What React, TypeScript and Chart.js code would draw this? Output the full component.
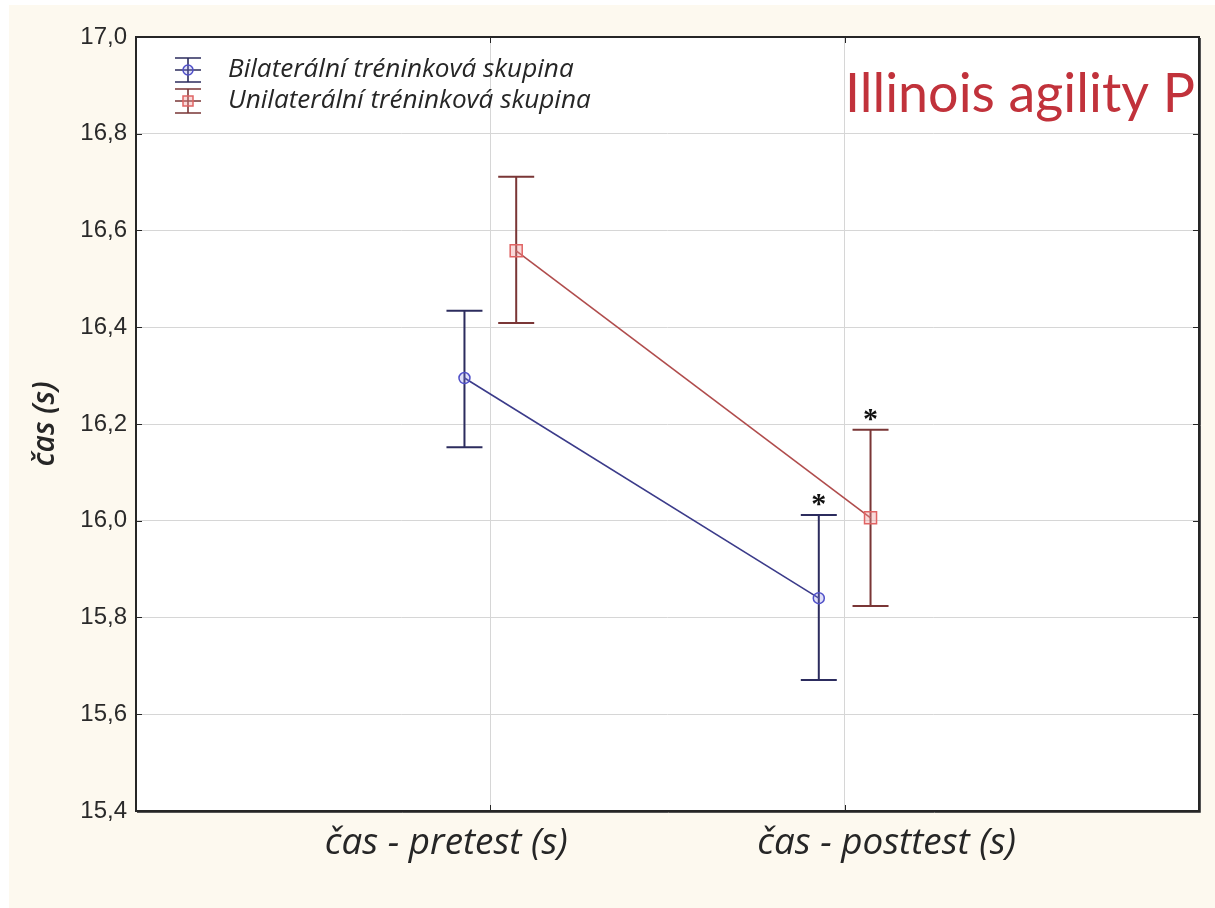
import React, { useEffect, useRef } from "react";
import { Chart, registerables } from "chart.js";

Chart.register(...registerables);

// Illinois agility test time (s): group means with error bars, pretest vs posttest
const phases = ["čas - pretest (s)", "čas - posttest (s)"];
const groupNames = ["Bilaterální tréninková skupina", "Unilaterální tréninková skupina"];

const bilateralMean = [16.295, 15.84];
const bilateralLow = [16.152, 15.671];
const bilateralHigh = [16.434, 16.012];

const unilateralMean = [16.558, 16.006];
const unilateralLow = [16.409, 15.824];
const unilateralHigh = [16.711, 16.188];

// "*" = significant change against pretest
const bilateralStar = [false, true];
const unilateralStar = [false, true];

const yTickValues = [15.4, 15.6, 15.8, 16.0, 16.2, 16.4, 16.6, 16.8, 17.0];
const chartTitle = "Illinois agility P";
const yAxisTitle = "čas (s)";

type Series = {
  name: string;
  mean: number[];
  low: number[];
  high: number[];
  star: boolean[];
  shift: number;
  line: string;
  bar: string;
  marker: string;
  markerFill: string;
  pointStyle: "circle" | "rect";
  radius: number;
};

const series: Series[] = [
  {
    name: groupNames[0],
    mean: bilateralMean,
    low: bilateralLow,
    high: bilateralHigh,
    star: bilateralStar,
    shift: -0.073,
    line: "#3b3b8a",
    bar: "#2c2c5e",
    marker: "#5050c8",
    markerFill: "rgba(130,130,235,0.25)",
    pointStyle: "circle",
    radius: 5.5,
  },
  {
    name: groupNames[1],
    mean: unilateralMean,
    low: unilateralLow,
    high: unilateralHigh,
    star: unilateralStar,
    shift: 0.073,
    line: "#b04c4c",
    bar: "#7a3636",
    marker: "#e06464",
    markerFill: "rgba(240,150,150,0.35)",
    pointStyle: "rect",
    radius: 8.5,
  },
];

const CREAM = "#fdf9ef";
const GRID = "#d6d6d6";
const INK = "#262626";
const CAP = 18;

function fitFont(ctx: CanvasRenderingContext2D, text: string, tpl: (s: number) => string, width: number) {
  ctx.font = tpl(100);
  const w = ctx.measureText(text).width;
  return tpl((100 * width) / w);
}

const backdrop = {
  id: "backdrop",
  beforeDraw(chart: any) {
    const { ctx, width, height, chartArea } = chart;
    ctx.save();
    ctx.fillStyle = "#ffffff";
    ctx.fillRect(0, 0, width, height);
    ctx.fillStyle = CREAM;
    ctx.fillRect(9, 5, width - 9, height - 5);
    ctx.fillStyle = "#ffffff";
    ctx.fillRect(chartArea.left, chartArea.top, chartArea.right - chartArea.left, chartArea.bottom - chartArea.top);
    ctx.restore();
  },
};

const errorBars = {
  id: "errorBars",
  beforeDatasetsDraw(chart: any) {
    const { ctx } = chart;
    const x = chart.scales.x;
    const y = chart.scales.y;
    series.forEach((s) => {
      ctx.save();
      ctx.strokeStyle = s.bar;
      ctx.lineWidth = 2;
      s.mean.forEach((_, i) => {
        const px = x.getPixelForValue(i + 1 + s.shift);
        const top = y.getPixelForValue(s.high[i]);
        const bot = y.getPixelForValue(s.low[i]);
        ctx.beginPath();
        ctx.moveTo(px, top);
        ctx.lineTo(px, bot);
        ctx.moveTo(px - CAP, top);
        ctx.lineTo(px + CAP, top);
        ctx.moveTo(px - CAP, bot);
        ctx.lineTo(px + CAP, bot);
        ctx.stroke();
      });
      ctx.restore();
    });
  },
  afterDatasetsDraw(chart: any) {
    const { ctx } = chart;
    const x = chart.scales.x;
    const y = chart.scales.y;
    ctx.save();
    ctx.fillStyle = "#111";
    ctx.font = "bold 30px 'Liberation Serif'";
    ctx.textAlign = "center";
    ctx.textBaseline = "middle";
    series.forEach((s) => {
      s.star.forEach((on, i) => {
        if (!on) return;
        const px = x.getPixelForValue(i + 1 + s.shift);
        const top = y.getPixelForValue(s.high[i]);
        ctx.fillText("*", px, top - 10);
      });
    });
    ctx.restore();
  },
};

const decorations = {
  id: "decorations",
  afterDraw(chart: any) {
    const { ctx, chartArea } = chart;
    const { left, right, top, bottom } = chartArea;
    const x = chart.scales.x;
    const y = chart.scales.y;
    ctx.save();

    // frame
    ctx.strokeStyle = INK;
    ctx.lineWidth = 2;
    ctx.strokeRect(left, top, right - left, bottom - top);
    ctx.strokeStyle = "#555";
    ctx.lineWidth = 1;
    ctx.beginPath();
    ctx.moveTo(left + 1, bottom + 1.5);
    ctx.lineTo(right + 1.5, bottom + 1.5);
    ctx.lineTo(right + 1.5, top + 1);
    ctx.stroke();

    // short inner tick marks
    ctx.strokeStyle = INK;
    ctx.lineWidth = 1;
    ctx.beginPath();
    yTickValues.forEach((v) => {
      const py = Math.round(y.getPixelForValue(v)) + 0.5;
      ctx.moveTo(left, py);
      ctx.lineTo(left + 6, py);
      ctx.moveTo(right, py);
      ctx.lineTo(right - 6, py);
    });
    phases.forEach((_, i) => {
      const px = Math.round(x.getPixelForValue(i + 1)) + 0.5;
      ctx.moveTo(px, top);
      ctx.lineTo(px, top + 6);
      ctx.moveTo(px, bottom);
      ctx.lineTo(px, bottom - 6);
    });
    ctx.stroke();

    // phase labels under the axis
    const labelFont = fitFont(ctx, phases[0], (s) => `italic 400 ${s}px 'Open Sans'`, 243);
    ctx.font = labelFont;
    ctx.fillStyle = INK;
    ctx.textAlign = "center";
    ctx.textBaseline = "middle";
    const labelShift = [-44, 42];
    phases.forEach((p, i) => {
      ctx.fillText(p, x.getPixelForValue(i + 1) + labelShift[i], bottom + 33);
    });

    // legend
    const legendFont = fitFont(ctx, groupNames[0], (s) => `italic 400 ${s}px 'Open Sans'`, 346);
    const rows = [top + 33, top + 64];
    series.forEach((s, i) => {
      const cy = rows[i];
      const cx = left + 52;
      ctx.strokeStyle = s.bar;
      ctx.lineWidth = 1.6;
      ctx.beginPath();
      ctx.moveTo(cx, cy - 12);
      ctx.lineTo(cx, cy + 12);
      [-12, 0, 12].forEach((d) => {
        ctx.moveTo(cx - 13, cy + d);
        ctx.lineTo(cx + 13, cy + d);
      });
      ctx.stroke();
      ctx.strokeStyle = s.marker;
      ctx.fillStyle = s.markerFill;
      ctx.lineWidth = 1.5;
      ctx.beginPath();
      if (s.pointStyle === "circle") ctx.arc(cx, cy, 5, 0, Math.PI * 2);
      else ctx.rect(cx - 5, cy - 5, 10, 10);
      ctx.fill();
      ctx.stroke();
      ctx.font = legendFont;
      ctx.fillStyle = INK;
      ctx.textAlign = "left";
      ctx.textBaseline = "middle";
      ctx.fillText(s.name, left + 92, cy);
    });

    // title in the upper right corner
    ctx.font = fitFont(ctx, chartTitle, (s) => `400 ${s}px Lato`, 350);
    ctx.fillStyle = "#c1323b";
    ctx.textAlign = "right";
    ctx.textBaseline = "middle";
    ctx.fillText(chartTitle, right - 4, top + 58);

    ctx.restore();
  },
};

export default function App() {
  const canvasRef = useRef<HTMLCanvasElement | null>(null);

  useEffect(() => {
    if (!canvasRef.current) return;
    const chart = new Chart(canvasRef.current, {
      type: "line",
      data: {
        datasets: series.map((s) => ({
          label: s.name,
          data: s.mean.map((m, i) => ({ x: i + 1 + s.shift, y: m })),
          borderColor: s.line,
          borderWidth: 1.6,
          pointStyle: s.pointStyle,
          pointRadius: s.radius,
          pointBorderColor: s.marker,
          pointBackgroundColor: s.markerFill,
          pointBorderWidth: 1.5,
          fill: false,
          tension: 0,
        })),
      },
      options: {
        animation: false,
        responsive: true,
        maintainAspectRatio: false,
        layout: { padding: { top: 37, right: 16, bottom: 0, left: 0 } },
        plugins: {
          legend: { display: false },
          tooltip: { enabled: false },
        },
        scales: {
          x: {
            type: "linear",
            min: 0,
            max: 3,
            afterBuildTicks: (scale: any) => {
              scale.ticks = phases.map((_, i) => ({ value: i + 1 }));
            },
            afterFit: (scale: any) => {
              scale.height = 97;
            },
            ticks: { display: false },
            grid: { color: GRID, lineWidth: 1, drawTicks: false },
            border: { display: false },
          },
          y: {
            type: "linear",
            min: yTickValues[0],
            max: yTickValues[yTickValues.length - 1],
            afterBuildTicks: (scale: any) => {
              scale.ticks = yTickValues.map((v) => ({ value: v }));
            },
            afterFit: (scale: any) => {
              scale.width = 136;
            },
            ticks: {
              padding: 9,
              color: "#2a2a2a",
              font: { family: "'Liberation Sans'", size: 24 },
              callback: (v: any) => Number(v).toFixed(1).replace(".", ","),
            },
            grid: { color: GRID, lineWidth: 1, drawTicks: false },
            border: { display: false },
            title: {
              display: true,
              text: yAxisTitle,
              color: INK,
              font: { family: "'Open Sans'", style: "italic", weight: "600", size: 30 },
              padding: { top: 27, bottom: 0 },
            },
          },
        },
      },
      plugins: [backdrop, errorBars, decorations],
    });
    return () => chart.destroy();
  }, []);

  return (
    <div style={{ position: "fixed", left: 0, top: 0, width: 1215, height: 908 }}>
      <canvas ref={canvasRef} />
    </div>
  );
}
